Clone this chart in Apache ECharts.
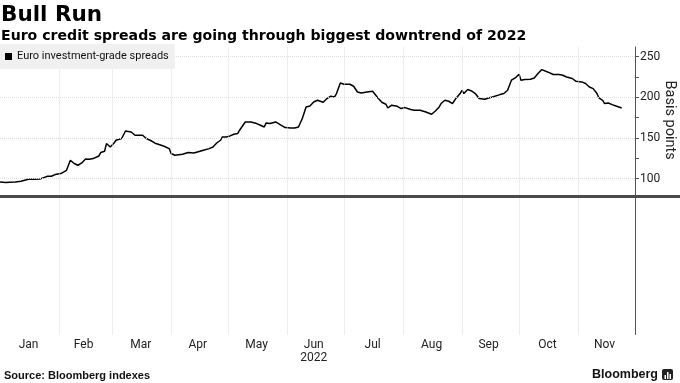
<!DOCTYPE html>
<html><head><meta charset="utf-8">
<script src="https://cdn.jsdelivr.net/npm/echarts@6.0.0/dist/echarts.min.js"></script>
<style>html,body{margin:0;padding:0;background:#fff}#c{width:680px;height:383px}</style>
</head><body><div id="c"></div>
<script>
// ---- data ----
const dates = [
 '2022-01-01','2022-01-04','2022-01-06','2022-01-09','2022-01-12','2022-01-14','2022-01-16','2022-01-19','2022-01-22','2022-01-24','2022-01-26','2022-01-28','2022-01-30',
 '2022-02-02','2022-02-03','2022-02-05','2022-02-07','2022-02-09','2022-02-11','2022-02-13','2022-02-15','2022-02-17','2022-02-19','2022-02-22','2022-02-23','2022-02-25','2022-02-26','2022-02-28',
 '2022-03-02','2022-03-03','2022-03-04','2022-03-06','2022-03-08','2022-03-09','2022-03-11','2022-03-13','2022-03-15','2022-03-17','2022-03-19','2022-03-22','2022-03-24','2022-03-28','2022-03-31',
 '2022-04-01','2022-04-03','2022-04-04','2022-04-07','2022-04-08','2022-04-10','2022-04-13','2022-04-14','2022-04-18','2022-04-21','2022-04-23','2022-04-25','2022-04-27','2022-04-28','2022-04-30',
 '2022-05-02','2022-05-04','2022-05-06','2022-05-07','2022-05-10','2022-05-13','2022-05-14','2022-05-16','2022-05-18','2022-05-20','2022-05-21','2022-05-23','2022-05-26','2022-05-27','2022-05-29','2022-05-31',
 '2022-06-03','2022-06-05','2022-06-07','2022-06-09','2022-06-11','2022-06-13','2022-06-15','2022-06-17','2022-06-18','2022-06-20','2022-06-22','2022-06-24','2022-06-26','2022-06-27','2022-06-29',
 '2022-07-01','2022-07-04','2022-07-06','2022-07-08','2022-07-10','2022-07-13','2022-07-16','2022-07-17','2022-07-19','2022-07-21','2022-07-23','2022-07-24','2022-07-26','2022-07-29','2022-07-31',
 '2022-08-02','2022-08-05','2022-08-07','2022-08-10','2022-08-13','2022-08-14','2022-08-16','2022-08-18','2022-08-20','2022-08-21','2022-08-23','2022-08-25','2022-08-27','2022-08-28','2022-08-29','2022-08-31',
 '2022-09-01','2022-09-02','2022-09-04','2022-09-06','2022-09-08','2022-09-10','2022-09-11','2022-09-13','2022-09-15','2022-09-17','2022-09-18','2022-09-21','2022-09-23','2022-09-25','2022-09-27','2022-09-29',
 '2022-10-01','2022-10-02','2022-10-04','2022-10-07','2022-10-09','2022-10-11','2022-10-13','2022-10-14','2022-10-16','2022-10-17','2022-10-19','2022-10-22','2022-10-24','2022-10-26','2022-10-29','2022-10-31',
 '2022-11-03','2022-11-05','2022-11-07','2022-11-09','2022-11-11','2022-11-12','2022-11-14','2022-11-15','2022-11-17','2022-11-19','2022-11-21','2022-11-24'
];
const spreads = [
 95.8,95.1,95.4,95.8,96.7,97.9,99.1,99.1,99.5,101.2,102.8,102.8,104.9,
 106.2,105.3,110.2,122.5,118.5,116.4,119.2,124.1,123.8,124.6,127.8,132.0,133.6,143.1,138.9,
 143.8,147.2,145.9,149.3,158.6,159.5,157.4,153.3,153.3,153.3,149.3,145.9,143.1,140.1,136.9,
 130.8,128.7,129.9,129.9,130.8,132.0,131.5,132.8,134.9,136.9,138.9,143.8,147.2,151.2,151.2,
 152.5,154.6,155.4,159.5,169.7,169.7,170.6,167.7,165.6,163.5,168.5,167.7,169.7,168.5,165.6,162.8,
 162.3,162.3,163.5,173.9,188.2,189.4,194.3,196.4,195.6,194.0,198.5,201.4,200.5,204.7,217.7,
 216.1,216.1,213.7,206.6,205.4,206.6,207.5,205.4,198.5,193.6,191.5,186.9,190.3,189.0,186.2,
 187.4,185.0,184.1,184.1,182.0,180.0,179.2,183.2,188.2,192.4,196.4,195.2,192.4,193.1,199.3,204.7,
 208.7,204.7,209.6,207.9,204.7,198.5,196.4,197.7,199.3,200.5,201.7,203.4,204.7,208.7,221.1,223.9,
 228.4,221.1,221.9,222.3,223.9,229.3,234.2,232.1,231.3,229.3,228.1,228.1,227.2,225.1,223.2,219.8,
 219.0,217.0,212.8,210.8,204.7,199.3,196.4,192.4,193.1,191.1,189.4,186.9
];
const monthLabels = ['Jan','Feb','Mar','Apr','May','Jun','Jul','Aug','Sep','Oct','Nov'];
const monthLabelDates = ['2022-01-16','2022-02-14','2022-03-16','2022-04-15','2022-05-16','2022-06-15','2022-07-16','2022-08-16','2022-09-15','2022-10-16','2022-11-15'];
const monthStarts = ['2022-02-01','2022-03-01','2022-04-01','2022-05-01','2022-06-01','2022-07-01','2022-08-01','2022-09-01','2022-10-01','2022-11-01'];
const yearLabel = '2022';
const yTickLabels = [100,150,200,250];
const yTicks = [100,125,150,175,200,225,250];
const baseline = 78;
const xStart = '2022-01-01', xEnd = '2022-12-01';
const yMin = -92, yMax = 262;

// ---- chart ----
const ts = d => +new Date(d + 'T00:00:00');
const chart = echarts.init(document.getElementById('c'), null, {renderer:'canvas'});
const axisFont = 'Roboto, "Liberation Sans", sans-serif';
const gridStyle = {color:'#dcdcdc', type:'dotted', width:1};

chart.setOption({
  animation:false,
  title:{
    text:'Bull Run',
    subtext:'Euro credit spreads are going through biggest downtrend of 2022',
    left:0, top:0, padding:[4,0,0,1], itemGap:3,
    textStyle:{fontFamily:'"DejaVu Sans"', fontWeight:'bold', fontSize:21.5, color:'#000'},
    subtextStyle:{fontFamily:'"DejaVu Sans"', fontWeight:'bold', fontSize:14.1, color:'#000'}
  },
  legend:{
    left:0, top:44, z:20, padding:[7,6,7,5], backgroundColor:'#f0f0f0',
    icon:'rect', itemWidth:7, itemHeight:7, itemGap:3,
    textStyle:{fontFamily:axisFont, fontSize:11, color:'#111'},
    data:['Euro investment-grade spreads']
  },
  grid:{left:0, right:45, top:47, height:287.5, containLabel:false},
  xAxis:[{
    type:'value', min:ts(xStart), max:ts(xEnd),
    axisLine:{show:false}, axisTick:{show:false},
    axisLabel:{
      customValues:monthLabelDates.map(ts), margin:4, fontFamily:axisFont, fontSize:12, color:'#222', lineHeight:13,
      formatter:function(v){ const m = new Date(v).getMonth(); return m===5 ? monthLabels[m]+'\n'+yearLabel : monthLabels[m]; }
    },
    splitLine:{show:false}
  }],
  yAxis:{
    type:'value', position:'right', min:yMin, max:yMax,
    axisLine:{show:true, lineStyle:{color:'#555', width:1}},
    axisTick:{show:true, customValues:yTicks, length:4, lineStyle:{color:'#555'}},
    axisLabel:{customValues:yTickLabels, margin:5, fontFamily:axisFont, fontSize:12, color:'#222'},
    splitLine:{show:false}
  },
  series:[{
    name:'Euro investment-grade spreads', type:'line', showSymbol:false, symbol:'none', z:3,
    data:dates.map((d,i)=>[ts(d), spreads[i]]),
    lineStyle:{color:'#000', width:1.5}, itemStyle:{color:'#000'},
    markLine:{
      silent:true, symbol:'none', label:{show:false},
      lineStyle:gridStyle,
      data:monthStarts.map(d => ({xAxis:ts(d)})).concat(yTickLabels.map(v => ({yAxis:v})))
    }
  }]
});

const baseY = chart.convertToPixel({yAxisIndex:0}, baseline);
const nameY = chart.convertToPixel({yAxisIndex:0}, 172);
chart.setOption({
  graphic:[
    {type:'line', shape:{x1:0, y1:baseY, x2:680, y2:baseY}, style:{stroke:'#4a4a4a', lineWidth:3}, z:10},
    {type:'text', x:670, y:nameY, rotation:-Math.PI/2,
     style:{text:'Basis points', fontFamily:axisFont, fontSize:14.5, fill:'#222', textAlign:'center', textVerticalAlign:'middle'}},
    {type:'text', left:4, top:370, style:{text:'Source: Bloomberg indexes', fontFamily:'"Liberation Sans"', fontWeight:'bold', fontSize:11, fill:'#111'}},
    {type:'text', right:22, top:368, style:{text:'Bloomberg', fontFamily:'"Liberation Sans"', fontWeight:'bold', fontSize:12.5, fill:'#111'}},
    {type:'rect', right:7, top:369, shape:{width:11, height:11, r:2}, style:{fill:'#222'}},
    {type:'group', right:9, top:372, children:[
      {type:'rect', shape:{x:0, y:3, width:1.5, height:4}, style:{fill:'#fff'}},
      {type:'rect', shape:{x:2.5, y:0, width:1.5, height:7}, style:{fill:'#fff'}},
      {type:'rect', shape:{x:5, y:2, width:1.5, height:5}, style:{fill:'#fff'}}
    ]}
  ]
});
</script></body></html>
